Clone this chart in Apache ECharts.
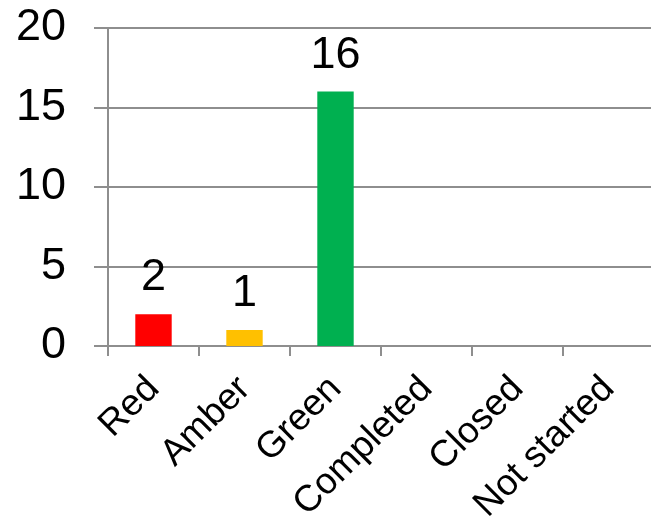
<!DOCTYPE html>
<html>
<head>
<meta charset="utf-8">
<script src="https://cdn.jsdelivr.net/npm/echarts@6/dist/echarts.min.js"></script>
<style>
	html, body { margin: 0; padding: 0; background: #fff; }
	#chart-1 { width: 651px; height: 520px; }
</style>
</head>
<body>
<div id="chart-1"></div>
<script>
var categories = ['Red', 'Amber', 'Green', 'Completed', 'Closed', 'Not started'];
var counts = [2, 1, 16, 0, 0, 0];
var barColors = ['#ff0000', '#ffc000', '#00b050', '#00b050', '#00b050', '#00b050'];

var myChart = echarts.init(document.getElementById('chart-1'));

var font = 'Liberation Sans, Arial, sans-serif';
var lineGray = '#8e8e8e';

var option = {
	animation: false,
	grid: {
		left: 108,
		top: 28,
		bottom: 174,
		width: 546,
		containLabel: false,
		outerBoundsMode: 'none'
	},
	xAxis: {
		type: 'category',
		data: categories,
		axisLine: { lineStyle: { color: lineGray, width: 2 } },
		axisTick: { show: true, length: 10, lineStyle: { color: lineGray, width: 2 } },
		axisLabel: {
			rotate: 45,
			margin: 37,
			color: '#000',
			fontSize: 37,
			fontFamily: font
		}
	},
	yAxis: {
		type: 'value',
		min: 0,
		max: 20,
		interval: 5,
		axisLine: { show: true, lineStyle: { color: lineGray, width: 2 } },
		axisTick: { show: true, length: 14, lineStyle: { color: lineGray, width: 2 } },
		splitLine: { lineStyle: { color: lineGray, width: 2 } },
		axisLabel: {
			margin: 42,
			color: '#000',
			fontSize: 45,
			fontFamily: font
		}
	},
	series: [{
		type: 'bar',
		barWidth: '40%',
		data: counts.map(function (v, i) {
			return { value: v, itemStyle: { color: barColors[i] } };
		}),
		label: {
			show: true,
			position: 'top',
			distance: 14,
			color: '#000',
			fontSize: 45,
			fontFamily: font,
			formatter: function (p) {
				return p.value ? p.value : '';
			}
		}
	}]
};

myChart.setOption(option);
</script>
</body>
</html>
